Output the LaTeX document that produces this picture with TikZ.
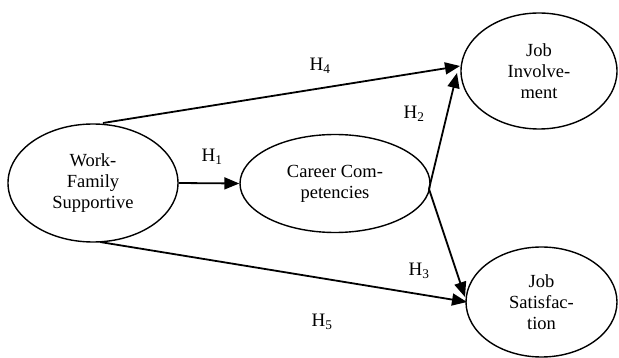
\documentclass[tikz,border=0pt]{standalone}
\usepackage{fontspec}
\setmainfont{Liberation Serif}
\usetikzlibrary{shapes.geometric,arrows.meta}
\begin{document}
\begin{tikzpicture}[x=1pt,y=-1pt,
  oval/.style={ellipse, draw, line width=1.4pt, inner sep=0pt, align=center,
    font=\fontsize{18.5}{21}\selectfont},
  link/.style={line width=1.8pt, -{Triangle[length=15pt,width=12pt]}},
  hyp/.style={font=\fontsize{19}{21}\selectfont, inner sep=0pt}]
\useasboundingbox (0,0) rectangle (619,358);
\node[oval, minimum width=170pt, minimum height=118pt] (wf) at (93,183) {Work-\\Family\\Supportive};
\node[oval, minimum width=190pt, minimum height=98pt] (cc) at (335,183.5) {Career Com-\\petencies};
\node[oval, minimum width=156pt, minimum height=116pt] (ji) at (539,71) {Job\\Involve-\\ment};
\node[oval, minimum width=151pt, minimum height=110pt] (js) at (541.5,302) {Job\\Satisfac-\\tion};
\coordinate (wftop) at (103,123);
\coordinate (wfbot) at (100,242);
\coordinate (ccr) at (429,189);
\coordinate (jil) at (460,66);
\coordinate (jilb) at (457,73);
\coordinate (jsl) at (465,297);
\coordinate (jslb) at (467,302);
\draw[link] (wftop) -- (jil);
\draw[link] (wf.east) -- (cc.west);
\draw[link] (ccr) -- (jilb);
\draw[link] (ccr) -- (jsl);
\draw[link] (wfbot) -- (jslb);
\node[hyp] (h4) at (320,66) {H\textsubscript{4}};
\node[hyp] (h1) at (212,157) {H\textsubscript{1}};
\node[hyp] (h2) at (414,114) {H\textsubscript{2}};
\node[hyp] (h3) at (419,271) {H\textsubscript{3}};
\node[hyp] (h5) at (322,322) {H\textsubscript{5}};
\end{tikzpicture}
\end{document}
